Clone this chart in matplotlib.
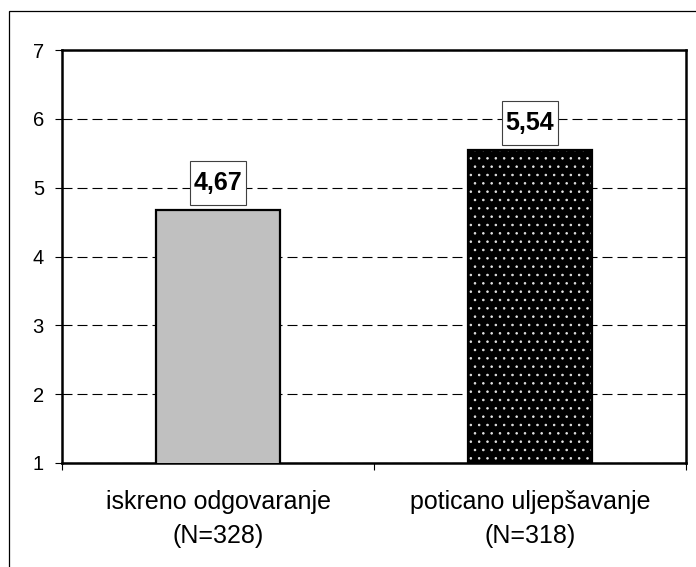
import matplotlib
matplotlib.use("Agg")
import matplotlib.pyplot as plt
from matplotlib.patches import Rectangle
import numpy as np

categories = ["iskreno odgovaranje\n(N=328)", "poticano uljepšavanje\n(N=318)"]
values = [4.67, 5.54]
value_labels = ["4,67", "5,54"]
yticks = [1, 2, 3, 4, 5, 6, 7]

plt.rcParams['font.family'] = ['Liberation Sans', 'DejaVu Sans']
plt.rcParams['hatch.linewidth'] = 0.6

fig = plt.figure(figsize=(6.96, 5.67), dpi=100)
ax = fig.add_axes([62/696, 1-463/567, (686-62)/696, (463-50)/567])

# outer frame (only top and left visible)
fig.add_artist(Rectangle((9/696, -0.1), 1.2, 1-11/567+0.1, transform=fig.transFigure,
                         fill=False, edgecolor='black', linewidth=0.9))

x = np.arange(len(values))
w = 0.4
ax.bar(x[0], values[0], width=w, color='#c0c0c0', edgecolor='black', linewidth=1.6, zorder=3)
ax.bar(x[1], values[1], width=w, color='black', edgecolor='#e6e6e6', hatch='..', linewidth=0, zorder=3)
ax.bar(x[1], values[1], width=w, fill=False, edgecolor='black', linewidth=1.6, zorder=4)

for xi, v, lab in zip(x, values, value_labels):
    ax.annotate(lab, (xi, v), xytext=(0, 19.5), textcoords='offset points',
                ha='center', va='center', fontsize=18, fontweight='bold', zorder=5,
                bbox=dict(boxstyle='square,pad=0.16', mutation_aspect=2.5,
                          facecolor='white', edgecolor='#404040', linewidth=0.8))

ax.set_xlim(-0.5, 1.5)
ax.set_ylim(1, 7)
ax.set_yticks(yticks)
ax.set_yticklabels([str(t) for t in yticks])
ax.yaxis.grid(True, linestyle=(0, (9, 4.5)), color='black', linewidth=0.8)
ax.set_axisbelow(True)

ax.set_xticks([-0.5, 0.5, 1.5])
ax.set_xticklabels([])
ax.set_xticks(x, minor=True)
ax.set_xticklabels(categories, minor=True, fontsize=18, linespacing=1.5)
ax.tick_params(axis='x', which='minor', length=0, pad=19.5)
ax.tick_params(axis='x', which='major', length=5, width=0.8, direction='out')
ax.tick_params(axis='y', length=5, width=0.8, direction='out', labelsize=14.5, pad=8)

for s in ax.spines.values():
    s.set_linewidth(1.8)

fig.savefig("out.png", dpi=100)
